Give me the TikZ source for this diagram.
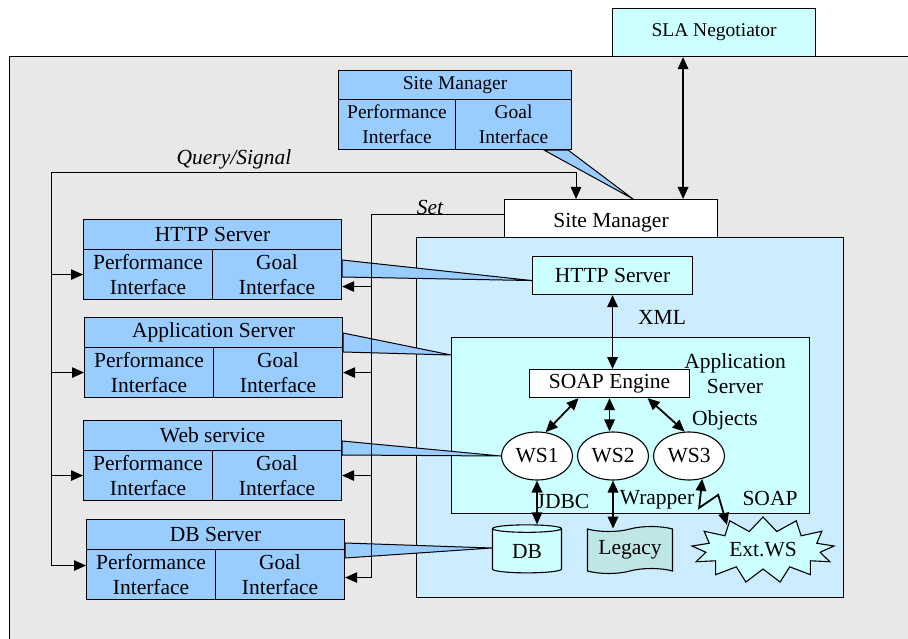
\documentclass[tikz,border=0pt]{standalone}
\usepackage{fontspec}
\setmainfont{Liberation Serif}
\usetikzlibrary{arrows.meta,shapes.geometric,shapes.symbols}
\definecolor{bggray}{RGB}{232,232,232}
\definecolor{srvblue}{RGB}{153,204,255}
\definecolor{hostblue}{RGB}{204,236,255}
\definecolor{lcyan}{RGB}{204,255,255}
\definecolor{legacyteal}{RGB}{191,230,230}
\begin{document}
\begin{tikzpicture}[x=1pt,y=-1pt,>={Triangle[length=12pt,width=10.5pt]},
    big/.style={font=\fontsize{21.5}{25}\selectfont},
    small/.style={font=\fontsize{19.5}{25}\selectfont},
    box/.style={draw,line width=1.1pt,inner sep=0pt,anchor=north west,big},
    hdr/.style={box,fill=srvblue,minimum width=258pt,minimum height=30pt},
    half/.style={box,fill=srvblue,minimum width=129pt,minimum height=50pt,align=center},
    ws/.style={draw,ellipse,fill=white,line width=1.1pt,minimum width=71pt,minimum height=48pt,inner sep=0pt,big},
    lbl/.style={inner sep=0pt,big},
    note/.style={inner sep=0pt,font=\fontsize{21.5}{25}\selectfont\itshape},
    link/.style={line width=1pt},
    dbl/.style={<->,line width=1.8pt},
    callout/.style={fill=srvblue,draw,line width=1pt}]

		\useasboundingbox (0,0) rectangle (908,639);
		\clip (0,0) rectangle (908,639);

		\node[box,fill=bggray,minimum width=950pt,minimum height=650pt] (site) at (9,56) {};
		\node[box,small,fill=lcyan,minimum width=203pt,minimum height=48pt] (sla) at (612,8) {SLA Negotiator};
		\node[box,fill=white,minimum width=213pt,minimum height=46pt] (smw) at (504,199) {Site Manager};
		\node[box,fill=hostblue,minimum width=427pt,minimum height=360pt] (host) at (416,237) {};

		\node[hdr,small,minimum width=233pt,minimum height=29pt] (smH) at (338,70) {Site Manager};
		\node[half,small,minimum width=117pt] (smP) at (338,99) {Performance\\Interface};
		\node[half,small,minimum width=116pt] (smG) at (455,99) {Goal\\Interface};

		\node[hdr] (httpH) at (83,219) {HTTP Server};
		\node[half] (httpP) at (83,249) {Performance\\Interface};
		\node[half] (httpG) at (212,249) {Goal\\Interface};

		\node[hdr] (appH) at (84,317) {Application Server};
		\node[half] (appP) at (84,347) {Performance\\Interface};
		\node[half] (appG) at (213,347) {Goal\\Interface};

		\node[hdr] (webH) at (83,420) {Web service};
		\node[half] (webP) at (83,450) {Performance\\Interface};
		\node[half] (webG) at (212,450) {Goal\\Interface};

		\node[hdr] (dbH) at (86,519) {DB Server};
		\node[half] (dbP) at (86,549) {Performance\\Interface};
		\node[half] (dbG) at (215,549) {Goal\\Interface};

        \node[box,fill=lcyan,minimum width=160pt,minimum height=38pt] (hsrv) at (532,256) {HTTP Server};
        \node[box,fill=lcyan,minimum width=358pt,minimum height=176pt] (asrv) at (451,337) {};
        \node[box,fill=white,minimum width=160pt,minimum height=28pt] (soap) at (529,369) {SOAP Engine};
        \node[ws] (ws1) at (537,456) {WS1};
        \node[ws] (ws2) at (613,456) {WS2};
        \node[ws] (ws3) at (689,456) {WS3};
        \node[draw,cylinder,shape border rotate=90,aspect=0.25,fill=lcyan,line width=1.1pt,inner sep=0pt,minimum width=69pt,minimum height=48pt,big] (db) at (527,551) {DB};
        \node[draw,tape,fill=legacyteal,line width=1.1pt,inner sep=0pt,minimum width=85pt,minimum height=47pt,big] (leg) at (630,550) {Legacy};
        \node[draw,starburst,random starburst=0,starburst points=13,starburst point height=14pt,fill=lcyan,line width=1.1pt,inner sep=0pt,minimum width=143pt,minimum height=66pt,big] (ext) at (763,550) {Ext.WS};

        \node[lbl] (xml) at (662,317) {XML};
        \node[lbl,align=center] (asl) at (735,374) {Application\\Server};
        \node[lbl] (obj) at (725,420) {Objects};
        \node[lbl] (jdbc) at (563,501) {JDBC};
        \node[lbl] (wrap) at (657,500) {Wrapper};
        \node[lbl] (soapl) at (770,498) {SOAP};
        \node[note] (qsl) at (234,159) {Query/Signal};
        \node[note] (setl) at (430,207) {Set};

        %% callouts
        \draw[callout] ([xshift=-28]smG.south east) -- ([xshift=22]smw.north) -- ([xshift=-4]smG.south east) -- cycle;
        \draw[callout] ([yshift=-11]httpG.north east) -- ([yshift=-5]hsrv.west) -- ([yshift=-28]httpG.north east) -- cycle;
        \draw[callout] ([yshift=-16]appH.north east) -- ([yshift=-18]asrv.north west) -- ([yshift=-5]appG.north east) -- cycle;
        \draw[callout] ([yshift=-21]webH.north east) -- (ws1.west) -- ([yshift=-5]webG.north east) -- cycle;
        \draw[callout] ([yshift=-24]dbH.north east) -- ([yshift=3]db.west) -- ([yshift=-9]dbG.north east) -- cycle;

        %% query / signal
        \coordinate (qs) at (51,173);
		\draw[link,->] (qs) -| ([xshift=-35]smw.north);
		\draw[link,->] (qs) |- ([yshift=9]dbP.west);
		\draw[link,->] (qs |- httpP.west) -- (httpP.west);
		\draw[link,->] (qs |- appP.west) -- (appP.west);
		\draw[link,->] (qs |- webP.west) -- (webP.west);

        %% set
        \coordinate (set) at (371,215);
        \coordinate (gHttp) at ([yshift=-12]httpG.east);
		\draw[link] (smw.west |- set) -- (set);
		\draw[link,->] (set) |- ([yshift=-3]dbG.east);
		\draw[link,->] (set |- gHttp) -- (gHttp);
		\draw[link,->] (set |- appG.east) -- (appG.east);
		\draw[link,->] (set |- webG.east) -- (webG.east);

        \coordinate (negT) at ([xshift=-31]sla.south);
        \draw[<->,line width=1.5pt] (negT) -- (negT |- smw.north);
        \draw[dbl] (hsrv.south) -- (hsrv.south |- soap.north);
        \draw[dbl] ([xshift=-31]soap.south) -- (ws1.70);
        \draw[dbl] (soap.south) -- (soap.south |- ws2.north);
        \draw[dbl] ([xshift=38]soap.south) -- (ws3.100);
        \draw[dbl] (ws1.south) -- (ws1.south |- db.north);
        \draw[dbl] (ws2.south) -- (ws2.south |- leg.north);
        \draw[dbl] (ws3.-60) -- ++(-3,29) -- ++(19,-13) -- ([xshift=-36,yshift=25]ext.center);
	\end{tikzpicture}
\end{document}
